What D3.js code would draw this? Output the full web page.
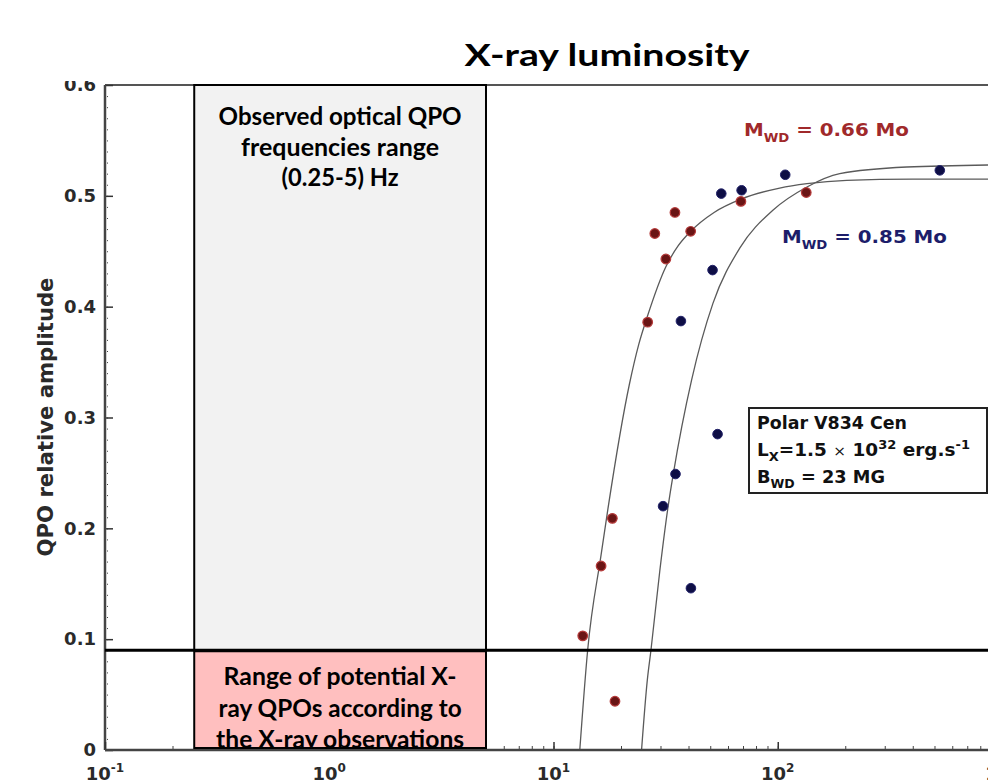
<!DOCTYPE html>
<html>
<head>
<meta charset="utf-8">
<title>X-ray luminosity</title>
<script src="https://d3js.org/d3.v7.min.js"></script>
<style>
  body { margin: 0; background: #fff; }
  .ax text { font-family: "DejaVu Sans", sans-serif; font-weight: bold; fill: #2a2a2a; }
  .note { font-family: "DejaVu Sans", sans-serif; font-weight: bold; }
  .box-txt { font-family: Lato, "Open Sans", sans-serif; font-weight: bold; fill: #000; }
</style>
</head>
<body>
<script>
// measured QPO amplitudes, M_WD = 0.66 Mo (red) and 0.85 Mo (blue)
const redHz  = [13.5, 16.3, 18.3, 18.8, 26.3, 28.3, 31.7, 34.8, 40.9, 68.5, 134];
const redAmp = [0.103, 0.166, 0.209, 0.044, 0.386, 0.466, 0.443, 0.485, 0.468, 0.495, 0.503];
const blueHz  = [30.8, 35.0, 37.0, 41.0, 51.2, 53.9, 56.0, 69.0, 108, 528];
const blueAmp = [0.220, 0.249, 0.387, 0.146, 0.433, 0.285, 0.502, 0.505, 0.519, 0.523];

// model curves
const redFitHz  = [13.1, 14.2, 16.3, 17.5, 21.8, 24.0, 26.3, 31.7, 36.0, 40.9, 52.0, 68.5, 102, 135, 203, 400, 1000];
const redFitAmp = [0, 0.090, 0.176, 0.218, 0.330, 0.366, 0.392, 0.436, 0.455, 0.468, 0.485, 0.497, 0.507, 0.511, 0.514, 0.515, 0.515];
const blueFitHz  = [24.7, 26.2, 27.2, 29.8, 32.4, 34.2, 41.3, 51.4, 67.8, 95.1, 135, 189, 376, 1000];
const blueFitAmp = [0, 0.063, 0.090, 0.162, 0.219, 0.249, 0.334, 0.403, 0.453, 0.487, 0.508, 0.520, 0.526, 0.528];

const qpoBand = [0.25, 5];      // Hz, observed optical QPO range
const xrayLimit = 0.09;         // amplitude limit from X-ray observations

const xTicks = [0.1, 1, 10, 100, 1000];
const xTickExp = ["-1", "0", "1", "2", "3"];
const yTicks = [0, 0.1, 0.2, 0.3, 0.4, 0.5, 0.6];
const yTickLabels = ["0", "0.1", "0.2", "0.3", "0.4", "0.5", "0.6"];

let w = 988, h = 783;

let svg = d3.select("body").append("svg")
  .attr("width", w).attr("height", h)
  .style("display", "block")
  .style("background", "#fff");

let x = d3.scaleLog().domain([0.1, 1000]).range([105, 1002]);
let y = d3.scaleLinear().domain([0, 0.6]).range([750, 85]);

let defs = svg.append("defs");
defs.append("clipPath").attr("id", "plot")
  .append("rect").attr("x", 105).attr("y", 85).attr("width", w - 105).attr("height", 665);
defs.append("clipPath").attr("id", "pink")
  .append("rect").attr("x", x(qpoBand[0])).attr("y", y(xrayLimit))
  .attr("width", x(qpoBand[1]) - x(qpoBand[0])).attr("height", y(0) - 2 - y(xrayLimit));
// the 0.6 label is cut by the title area in the original
defs.append("clipPath").attr("id", "ylab")
  .append("rect").attr("x", -110).attr("y", 81).attr("width", 130).attr("height", 700);

// top frame
svg.append("line")
  .attr("x1", 105).attr("x2", w).attr("y1", y(0.6)).attr("y2", y(0.6))
  .attr("stroke", "#555").attr("stroke-width", 2);

// observed optical band
svg.append("rect")
  .attr("x", x(qpoBand[0])).attr("y", y(0.6))
  .attr("width", x(qpoBand[1]) - x(qpoBand[0]))
  .attr("height", y(xrayLimit) - y(0.6))
  .attr("fill", "#f2f2f2").attr("stroke", "#000").attr("stroke-width", 2);

let plot = svg.append("g").attr("clip-path", "url(#plot)");

let line = d3.line().x(d => x(d[0])).y(d => y(d[1])).curve(d3.curveMonotoneX);

plot.append("path")
  .datum(d3.zip(redFitHz, redFitAmp))
  .attr("d", line).attr("fill", "none").attr("stroke", "#5a5a5a").attr("stroke-width", 1.3);
plot.append("path")
  .datum(d3.zip(blueFitHz, blueFitAmp))
  .attr("d", line).attr("fill", "none").attr("stroke", "#5a5a5a").attr("stroke-width", 1.3);

plot.selectAll(".red").data(d3.zip(redHz, redAmp)).join("circle")
  .attr("class", "red")
  .attr("cx", d => x(d[0])).attr("cy", d => y(d[1])).attr("r", 4.8)
  .attr("fill", "#6a1515").attr("stroke", "#b53a3a").attr("stroke-width", 1.2);
plot.selectAll(".blue").data(d3.zip(blueHz, blueAmp)).join("circle")
  .attr("class", "blue")
  .attr("cx", d => x(d[0])).attr("cy", d => y(d[1])).attr("r", 4.8)
  .attr("fill", "#0e0e45").attr("stroke", "#23236a").attr("stroke-width", 1);

// y axis
let yAxis = svg.append("g").attr("class", "ax").attr("transform", "translate(105,0)");
yAxis.call(d3.axisLeft(y).tickValues(d3.range(0, 0.6001, 0.01)).tickSize(-3).tickSizeOuter(0).tickFormat(""));
yAxis.select(".domain").remove();
yAxis.selectAll("line").attr("stroke", "#444").attr("x1", 2);
let yMajor = svg.append("g").attr("class", "ax").attr("transform", "translate(105,0)")
  .attr("clip-path", "url(#ylab)");
yMajor.call(d3.axisLeft(y).tickValues(yTicks).tickSize(-8).tickSizeOuter(0).tickPadding(9)
  .tickFormat((d, i) => yTickLabels[i]));
yMajor.select(".domain").remove();
yMajor.selectAll("line").attr("stroke", "#333").attr("stroke-width", 1.5);
yMajor.selectAll("text").attr("font-size", 18);
svg.append("line")
  .attr("x1", 105).attr("x2", 105).attr("y1", y(0.6)).attr("y2", y(0))
  .attr("stroke", "#444").attr("stroke-width", 2.5);

// x axis
let xMinor = svg.append("g").attr("class", "ax").attr("transform", "translate(0,750)");
xMinor.call(d3.axisBottom(x).tickValues(x.ticks()).tickSize(-4).tickSizeOuter(0).tickFormat(""));
xMinor.select(".domain").remove();
xMinor.selectAll("line").attr("stroke", "#444").attr("y1", 1);
let xMajor = svg.append("g").attr("class", "ax").attr("transform", "translate(0,750)");
xMajor.call(d3.axisBottom(x).tickValues(xTicks).tickSize(-8).tickSizeOuter(0).tickFormat(""));
xMajor.select(".domain").remove();
xMajor.selectAll("line").attr("stroke", "#333").attr("stroke-width", 1.5);
svg.append("line")
  .attr("x1", 105).attr("x2", w).attr("y1", y(0)).attr("y2", y(0))
  .attr("stroke", "#444").attr("stroke-width", 2.5);

let xLab = svg.append("g").attr("class", "ax").selectAll("text")
  .data(xTicks).join("text")
  .attr("x", d => x(d)).attr("y", 780)
  .attr("text-anchor", "middle").attr("font-size", 18);
xLab.append("tspan").text("10");
xLab.append("tspan").attr("dy", -8).attr("font-size", 12).text((d, i) => xTickExp[i]);

// y title
svg.append("text").attr("class", "note")
  .attr("transform", "translate(53,417) rotate(-90)")
  .attr("text-anchor", "middle").attr("font-size", 21).attr("fill", "#2a2a2a")
  .attr("textLength", 279).attr("lengthAdjust", "spacingAndGlyphs")
  .text("QPO relative amplitude");

// X-ray upper limit line
svg.append("line")
  .attr("x1", 105).attr("x2", w).attr("y1", y(xrayLimit)).attr("y2", y(xrayLimit))
  .attr("stroke", "#000").attr("stroke-width", 3);

// X-ray range box
svg.append("rect")
  .attr("x", x(qpoBand[0])).attr("y", y(xrayLimit) + 1)
  .attr("width", x(qpoBand[1]) - x(qpoBand[0]))
  .attr("height", y(0) - 3 - y(xrayLimit))
  .attr("fill", "#ffbfbf").attr("stroke", "#000").attr("stroke-width", 2);

let cx = (x(qpoBand[0]) + x(qpoBand[1])) / 2;

let grey = [["Observed optical QPO", 125, 243], ["frequencies range", 156, 198], ["(0.25-5) Hz", 186, 117]];
svg.append("g").selectAll("text").data(grey).join("text")
  .attr("class", "box-txt")
  .attr("x", cx).attr("y", d => d[1]).attr("text-anchor", "middle")
  .attr("font-size", 25).attr("textLength", d => d[2]).attr("lengthAdjust", "spacingAndGlyphs")
  .text(d => d[0]);

let pink = [["Range of potential X-", 685, 233], ["ray QPOs according to", 717, 243], ["the X-ray observations", 748, 248]];
svg.append("g").attr("clip-path", "url(#pink)").selectAll("text").data(pink).join("text")
  .attr("class", "box-txt")
  .attr("x", cx).attr("y", d => d[1]).attr("text-anchor", "middle")
  .attr("font-size", 25).attr("textLength", d => d[2]).attr("lengthAdjust", "spacingAndGlyphs")
  .text(d => d[0]);

// title
svg.append("text").attr("class", "box-txt")
  .attr("x", 607).attr("y", 66).attr("text-anchor", "middle")
  .attr("font-size", 31).attr("textLength", 285).attr("lengthAdjust", "spacingAndGlyphs")
  .text("X-ray luminosity");

// mass labels
function massLabel(px, py, mass, color) {
  let t = svg.append("text").attr("class", "note").attr("x", px).attr("y", py)
    .attr("font-size", 18).attr("fill", color)
    .attr("textLength", 165).attr("lengthAdjust", "spacingAndGlyphs");
  t.append("tspan").text("M");
  t.append("tspan").attr("dy", 6).attr("font-size", 12).text("WD");
  t.append("tspan").attr("dy", -6).text(" = " + mass + " Mo");
}
massLabel(744, 136, "0.66", "#a0292b");
massLabel(782, 243, "0.85", "#1d1d6a");

// info box
svg.append("rect")
  .attr("x", 749).attr("y", 408).attr("width", 238).attr("height", 85)
  .attr("fill", "#fff").attr("stroke", "#222").attr("stroke-width", 2);
let info = svg.append("g").attr("class", "note").attr("fill", "#111").attr("font-size", 17);
info.append("text").attr("x", 757).attr("y", 429)
  .attr("textLength", 150).attr("lengthAdjust", "spacingAndGlyphs")
  .text("Polar V834 Cen");
let l2 = info.append("text").attr("x", 757).attr("y", 456)
  .attr("textLength", 213).attr("lengthAdjust", "spacingAndGlyphs");
l2.append("tspan").text("L");
l2.append("tspan").attr("dy", 5).attr("font-size", 12).text("X");
l2.append("tspan").attr("dy", -5).text("=1.5 ");
l2.append("tspan").attr("font-weight", "normal").attr("font-size", 14).text("\u00d7");
l2.append("tspan").text(" 10");
l2.append("tspan").attr("dy", -7).attr("font-size", 12).text("32");
l2.append("tspan").attr("dy", 7).text(" erg.s");
l2.append("tspan").attr("dy", -7).attr("font-size", 12).text("-1");
let l3 = info.append("text").attr("x", 757).attr("y", 483)
  .attr("textLength", 128).attr("lengthAdjust", "spacingAndGlyphs");
l3.append("tspan").text("B");
l3.append("tspan").attr("dy", 5).attr("font-size", 12).text("WD");
l3.append("tspan").attr("dy", -5).text(" = 23 MG");
</script>
</body>
</html>
